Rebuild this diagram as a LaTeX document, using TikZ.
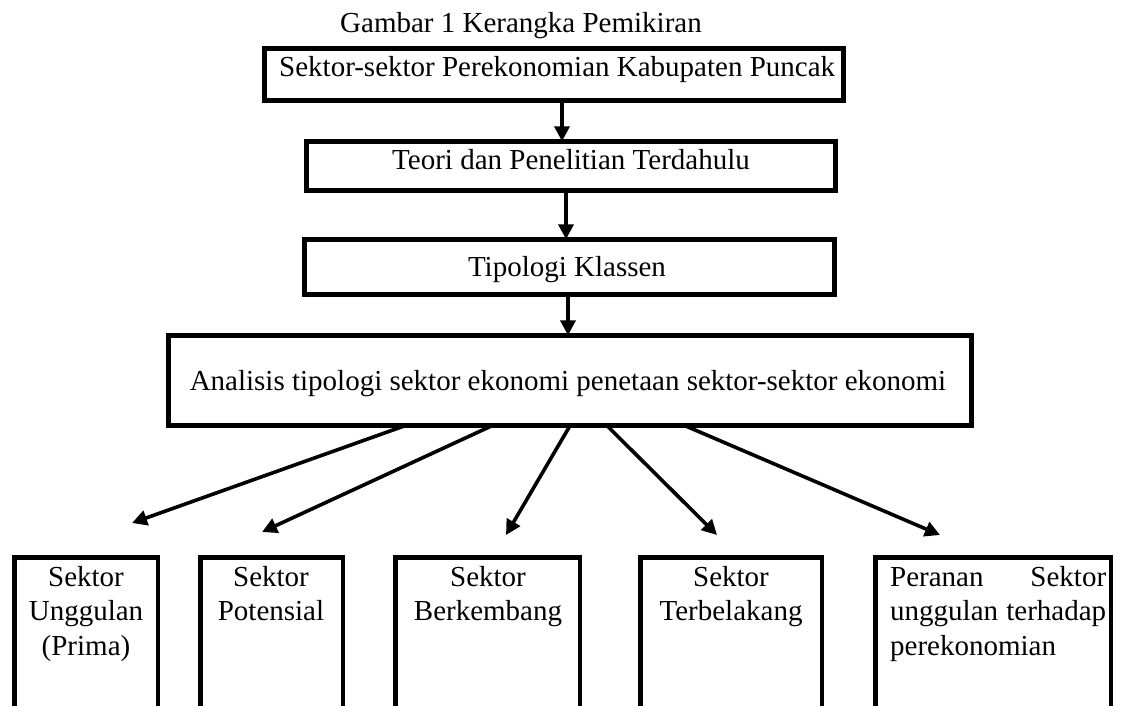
\documentclass[tikz,border=0pt]{standalone}
\usepackage{fontspec}
\setmainfont{Liberation Serif}
\usetikzlibrary{arrows.meta}
\begin{document}
\begin{tikzpicture}[x=1pt,y=-1pt,
  every node/.style={font=\fontsize{29}{34.5}\selectfont, inner sep=0pt},
  boxline/.style={line width=4.8pt},
  conn/.style={line width=3.6pt, -{Triangle[length=15pt,width=15pt]}},
  txt/.style={anchor=base}]
\useasboundingbox (0,0) rectangle (1122,706);
% title
\node[txt] (title) at (521,33) {Gambar 1 Kerangka Pemikiran};
% box 1
\draw[boxline] (264.5,48.5) rectangle (843.5,100.5);
\node[draw=none, minimum width=579pt, minimum height=52pt] (b1) at (554,74.5) {};
\node[txt, anchor=base west] (t1) at (279,77) {Sektor-sektor Perekonomian Kabupaten Puncak};
% box 2
\draw[boxline] (306.5,141.5) rectangle (835.5,190.5);
\node[draw=none, minimum width=529pt, minimum height=49pt] (b2) at (562,166) {};
\node[txt] (t2) at (571,170) {Teori dan Penelitian Terdahulu};
% box 3
\draw[boxline] (304.5,239.5) rectangle (834.5,294.5);
\node[draw=none, minimum width=530pt, minimum height=55pt] (b3) at (568,267) {};
\node[txt] (t3) at (567,276) {Tipologi Klassen};
% box 4
\draw[boxline] (168.5,335.5) rectangle (971.5,425.5);
\node[draw=none, minimum width=803pt, minimum height=90pt] (b4) at (570,380.5) {};
\node[txt] (t4) at (568,390) {Analisis tipologi sektor ekonomi penetaan sektor-sektor ekonomi};
% vertical arrows
\draw[conn] (b1.south -| 562,0) -- (b2.north -| 562,0);
\draw[conn] (b2.south -| 566,0) -- (b3.north -| 566,0);
\draw[conn] (b3.south -| 568,0) -- (b4.north -| 568,0);
% bottom boxes (open at bottom)
\node[draw=none, minimum width=143pt, minimum height=150pt, anchor=north west] (bA) at (14.5,557.5) {};
\node[draw=none, minimum width=142pt, minimum height=150pt, anchor=north west] (bB) at (200.5,557.5) {};
\node[draw=none, minimum width=184pt, minimum height=150pt, anchor=north west] (bC) at (395.5,557.5) {};
\node[draw=none, minimum width=181pt, minimum height=150pt, anchor=north west] (bD) at (640.5,557.5) {};
\node[draw=none, minimum width=235pt, minimum height=150pt, anchor=north west] (bE) at (875.5,557.5) {};
\foreach \b in {bA,bB,bC,bD,bE}{
  \draw[boxline] (\b.south west) -- (\b.north west) -- (\b.north east) -- (\b.south east);
}
\node[anchor=north, align=center] (tA) at (86,566) {Sektor\\Unggulan\\(Prima)};
\node[anchor=north, align=center] (tB) at (271,566) {Sektor\\Potensial};
\node[anchor=north, align=center] (tC) at (488,566) {Sektor\\Berkembang};
\node[anchor=north, align=center] (tD) at (731,566) {Sektor\\Terbelakang};
\node[anchor=north west, text width=216pt, align=justify] (tE) at (890,566) {Peranan Sektor unggulan terhadap perekonomian};
% arrow tips
\coordinate (eA) at (132,523);
\coordinate (eB) at (262,532);
\coordinate (eC) at (506,535);
\coordinate (eD) at (717,535);
\coordinate (eE) at (940,535);
\draw[conn] (b4.south -| 405,0) -- (eA);
\draw[conn] (b4.south -| 492,0) -- (eB);
\draw[conn] (b4.south -| 570,0) -- (eC);
\draw[conn] (b4.south -| 607,0) -- (eD);
\draw[conn] (b4.south -| 685,0) -- (eE);
\end{tikzpicture}
\end{document}
